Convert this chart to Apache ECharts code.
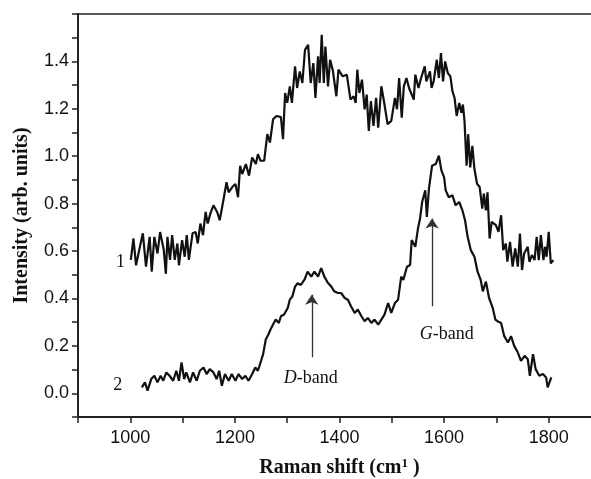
<!DOCTYPE html>
<html>
<head>
<meta charset="utf-8">
<script src="https://cdn.jsdelivr.net/npm/echarts@6/dist/echarts.min.js"></script>
</head>
<body style="margin:0">
<div id="chart" style="width:591px;height:479px"></div>
<script>
// spectrum 1 (upper trace)
var shift1 = [1001,1006,1011,1017,1024,1030,1037,1041,1046,1052,1057,1064,1068,1071,1076,1080,1085,1090,1093,1099,
  1104,1108,1112,1119,1125,1129,1134,1139,1144,1148,1153,1159,1166,1171,1179,1184,1188,1195,1201,1206,
  1210,1214,1221,1227,1233,1240,1244,1249,1256,1262,1267,1273,1280,1288,1292,1296,1300,1305,1309,1315,
  1319,1324,1329,1334,1340,1345,1350,1354,1359,1362,1366,1370,1373,1378,1382,1387,1394,1398,1406,1414,
  1421,1427,1431,1434,1438,1443,1448,1452,1456,1460,1465,1470,1474,1480,1485,1492,1499,1506,1510,1514,
  1519,1523,1528,1533,1542,1545,1551,1556,1563,1566,1573,1576,1580,1586,1590,1594,1598,1602,1607,1612,
  1616,1620,1624,1629,1633,1636,1639,1643,1646,1650,1654,1658,1663,1668,1673,1676,1680,1683,1687,1691,
  1699,1704,1709,1713,1718,1721,1726,1731,1736,1741,1745,1749,1753,1760,1763,1768,1773,1777,1781,1785,
  1790,1793,1796,1800,1804,1809];
var int1 = [0.563,0.653,0.54,0.604,0.675,0.534,0.66,0.513,0.66,0.59,0.68,0.605,0.504,0.66,0.563,0.667,0.563,0.632,0.54,0.646,
  0.576,0.667,0.563,0.675,0.68,0.632,0.716,0.667,0.765,0.716,0.758,0.793,0.765,0.73,0.827,0.89,0.848,0.87,0.883,0.827,
  0.96,0.925,0.967,0.918,0.995,0.967,1.009,0.981,0.981,1.093,1.058,1.156,1.17,1.165,1.072,1.267,1.225,1.295,1.225,1.379,
  1.288,1.358,1.309,1.449,1.47,1.309,1.393,1.246,1.421,1.309,1.512,1.309,1.463,1.295,1.407,1.365,1.253,1.365,1.337,1.344,
  1.239,1.253,1.225,1.365,1.267,1.323,1.198,1.26,1.107,1.232,1.128,1.246,1.121,1.295,1.232,1.135,1.149,1.246,1.198,1.33,
  1.163,1.295,1.33,1.288,1.239,1.344,1.288,1.33,1.379,1.316,1.358,1.288,1.316,1.407,1.33,1.435,1.316,1.4,1.351,1.337,
  1.274,1.246,1.17,1.225,1.183,1.218,1.149,0.96,1.093,0.953,1.044,0.946,0.884,0.87,0.779,0.842,0.772,0.848,0.653,0.723,
  0.709,0.681,0.751,0.604,0.632,0.555,0.639,0.534,0.611,0.534,0.674,0.52,0.59,0.618,0.555,0.583,0.562,0.66,0.562,0.667,
  0.562,0.618,0.576,0.681,0.548,0.562];

// spectrum 2 (lower trace)
var shift2 = [1022,1028,1033,1040,1046,1052,1058,1063,1069,1075,1082,1088,1093,1098,1103,1107,1114,1120,1127,1133,
  1140,1146,1152,1159,1165,1170,1175,1181,1188,1194,1201,1207,1214,1220,1226,1233,1239,1244,1249,1254,
  1259,1264,1268,1273,1278,1284,1288,1294,1301,1305,1310,1315,1320,1326,1333,1339,1346,1352,1359,1365,
  1371,1378,1384,1390,1397,1403,1410,1416,1422,1429,1435,1442,1448,1454,1461,1467,1474,1480,1486,1493,
  1499,1506,1512,1518,1522,1529,1535,1538,1545,1550,1554,1558,1564,1567,1571,1577,1584,1590,1595,1600,
  1603,1609,1616,1622,1629,1635,1640,1645,1651,1658,1664,1670,1674,1680,1686,1693,1698,1702,1709,1715,
  1722,1728,1734,1741,1747,1754,1760,1764,1770,1775,1782,1789,1795,1798,1805];
var int2 = [0.025,0.046,0.011,0.06,0.074,0.046,0.074,0.053,0.088,0.074,0.053,0.095,0.053,0.13,0.06,0.088,0.046,0.088,0.053,0.095,
  0.109,0.081,0.102,0.088,0.06,0.095,0.032,0.081,0.053,0.081,0.053,0.081,0.06,0.074,0.053,0.081,0.109,0.095,0.13,0.165,
  0.227,0.248,0.269,0.29,0.311,0.297,0.325,0.332,0.36,0.395,0.409,0.45,0.464,0.457,0.479,0.513,0.492,0.513,0.492,0.528,
  0.492,0.465,0.451,0.43,0.423,0.423,0.402,0.395,0.367,0.339,0.353,0.325,0.304,0.318,0.297,0.311,0.29,0.311,0.332,0.381,
  0.339,0.381,0.395,0.492,0.478,0.534,0.541,0.646,0.618,0.695,0.737,0.807,0.856,0.744,0.863,0.96,0.967,1.002,0.939,0.911,
  0.856,0.827,0.835,0.793,0.807,0.772,0.73,0.66,0.604,0.576,0.513,0.478,0.43,0.471,0.402,0.36,0.311,0.304,0.297,0.241,
  0.214,0.241,0.2,0.172,0.137,0.158,0.144,0.074,0.165,0.102,0.074,0.081,0.067,0.025,0.067];

// annotations
var noteX = [982, 977, 1346, 1606];
var noteY = [0.552, 0.031, 0.06, 0.249];
var noteText = ['1', '2', '{i|D}-band', '{i|G}-band'];
var arrowX = [1347, 1577];
var arrowFrom = [0.152, 0.367];
var arrowTo = [0.416, 0.737];

function pairs(xs, ys) {
  return xs.map(function (x, i) { return [x, ys[i]]; });
}

var chart = echarts.init(document.getElementById('chart'));

var option = {
  animation: false,
  grid: {
    left: 78, top: 14, right: -10, bottom: 62,
    outerBoundsMode: 'none', containLabel: false,
    show: true, borderColor: '#222', borderWidth: 1.5
  },
  xAxis: {
    type: 'value', min: 900, max: 1900, interval: 100,
    name: '{a|Raman shift (cm}{s|1}{a| )}',
    nameLocation: 'middle', nameGap: 40,
    nameTextStyle: {
      rich: {
        a: { fontFamily: 'Liberation Serif', fontWeight: 'bold', fontSize: 20, color: '#111' },
        s: { fontFamily: 'Liberation Serif', fontWeight: 'bold', fontSize: 13, color: '#111', padding: [0, 0, 9, 0] }
      }
    },
    axisLine: { onZero: false, lineStyle: { color: '#222', width: 2 } },
    axisTick: { inside: false, length: 6, lineStyle: { color: '#222', width: 1.5 } },
    axisLabel: {
      fontFamily: 'Liberation Sans', fontSize: 18, color: '#111', margin: 12,
      formatter: function (v) { return (v % 200 === 0 && v >= 1000 && v <= 1800) ? v : ''; }
    },
    splitLine: { show: false }
  },
  yAxis: {
    type: 'value', min: -0.1, max: 1.6, interval: 0.1,
    name: 'Intensity (arb. units)',
    nameLocation: 'middle', nameGap: 46,
    nameTextStyle: { fontFamily: 'Liberation Serif', fontWeight: 'bold', fontSize: 20, color: '#111' },
    axisLine: { show: true, onZero: false, lineStyle: { color: '#222', width: 2 } },
    axisTick: { show: true, length: 6, lineStyle: { color: '#222', width: 1.5 } },
    axisLabel: {
      fontFamily: 'Liberation Sans', fontSize: 18, color: '#111', margin: 9,
      formatter: function (v) {
        var k = Math.round(v * 10);
        return (k >= 0 && k <= 14 && k % 2 === 0) ? v.toFixed(1) : '';
      }
    },
    splitLine: { show: false }
  },
  series: [
    {
      type: 'line', data: pairs(shift1, int1), showSymbol: false,
      lineStyle: { color: '#111', width: 2.2 }
    },
    {
      type: 'line', data: pairs(shift2, int2), showSymbol: false,
      lineStyle: { color: '#111', width: 2.2 },
      markLine: {
        silent: true, symbol: ['none', 'arrow'], symbolSize: 10,
        label: { show: false },
        lineStyle: { color: '#333', width: 1.3, type: 'solid' },
        data: arrowX.map(function (x, i) {
          return [{ coord: [x, arrowFrom[i]] }, { coord: [x, arrowTo[i]] }];
        })
      }
    },
    {
      type: 'scatter', symbolSize: 1, silent: true,
      itemStyle: { opacity: 0 },
      data: noteX.map(function (x, i) { return [x, noteY[i], noteText[i]]; }),
      label: {
        show: true, position: [0, 0], align: 'center', verticalAlign: 'middle',
        formatter: function (p) { return p.data[2]; },
        fontFamily: 'Liberation Serif', fontSize: 18, color: '#111',
        opacity: 1, textBorderWidth: 0,
        rich: { i: { fontFamily: 'Liberation Serif', fontStyle: 'italic', fontSize: 18, color: '#111' } }
      }
    }
  ]
};

chart.setOption(option);
</script>
</body>
</html>
